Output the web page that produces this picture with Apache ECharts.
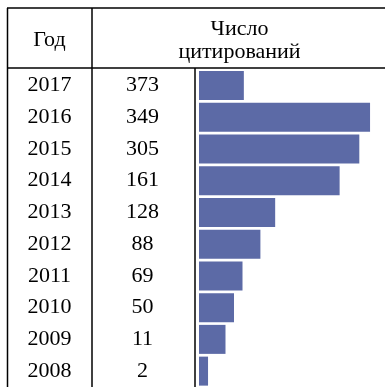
<!DOCTYPE html>
<html>
<head>
<meta charset="utf-8">
<script src="https://cdn.jsdelivr.net/npm/echarts@6/dist/echarts.min.js"></script>
<style>
  html, body { margin: 0; padding: 0; background: #fff; }
  #chart { width: 385px; height: 387px; }
</style>
</head>
<body>
<div id="chart"></div>
<script>
// Table columns
const years = ['2017', '2016', '2015', '2014', '2013', '2012', '2011', '2010', '2009', '2008'];
const citations = [373, 349, 305, 161, 128, 88, 69, 50, 11, 2];
// Bar column values, one per row
const barCounts = [91, 373, 349, 305, 161, 128, 88, 69, 50, 11];

const headerYear = 'Год';
const headerCount = 'Число\nцитирований';

const FONT = 'Liberation Serif';
const BAR_COLOR = '#5c6aa6';
const LINE = { stroke: '#000', lineWidth: 1.5 };

const chart = echarts.init(document.getElementById('chart'), null, { renderer: 'canvas' });

function hline(x1, x2, y) {
  return { type: 'line', shape: { x1: x1, y1: y, x2: x2, y2: y }, style: LINE, silent: true };
}
function vline(x, y1, y2) {
  return { type: 'line', shape: { x1: x, y1: y1, x2: x, y2: y2 }, style: LINE, silent: true };
}

chart.setOption({
  animation: false,
  backgroundColor: '#fff',
  grid: { left: 199, top: 69.5, width: 186, height: 320, containLabel: false },
  xAxis: {
    type: 'value',
    min: -9.2,
    max: 406.4,
    startValue: -9.2,
    show: false
  },
  yAxis: [
    {
      type: 'category',
      data: years,
      inverse: true,
      position: 'left',
      axisLine: { show: false },
      axisTick: { show: false },
      splitLine: { show: false },
      axisLabel: {
        margin: 149.5,
        align: 'center',
        fontFamily: FONT,
        fontSize: 22,
        color: '#000'
      }
    },
    {
      type: 'category',
      data: citations.map(String),
      inverse: true,
      position: 'left',
      axisLine: { show: false },
      axisTick: { show: false },
      splitLine: { show: false },
      axisLabel: {
        margin: 56.5,
        align: 'center',
        fontFamily: FONT,
        fontSize: 22,
        color: '#000'
      }
    }
  ],
  series: [{
    type: 'bar',
    yAxisIndex: 0,
    data: barCounts,
    barWidth: 29,
    itemStyle: { color: BAR_COLOR },
    silent: true
  }],
  graphic: [
    hline(7, 385, 8),
    hline(7, 385, 68),
    vline(7.5, 8, 387),
    vline(92, 8, 387),
    vline(195, 68, 387),
    {
      type: 'text',
      x: 49.5, y: 40,
      style: {
        text: headerYear,
        font: '22px "' + FONT + '"',
        fill: '#000',
        align: 'center',
        verticalAlign: 'middle'
      },
      silent: true
    },
    {
      type: 'text',
      x: 239.5, y: 40.5,
      style: {
        text: headerCount,
        font: '22px "' + FONT + '"',
        lineHeight: 23,
        fill: '#000',
        align: 'center',
        verticalAlign: 'middle'
      },
      silent: true
    }
  ]
});
</script>
</body>
</html>
